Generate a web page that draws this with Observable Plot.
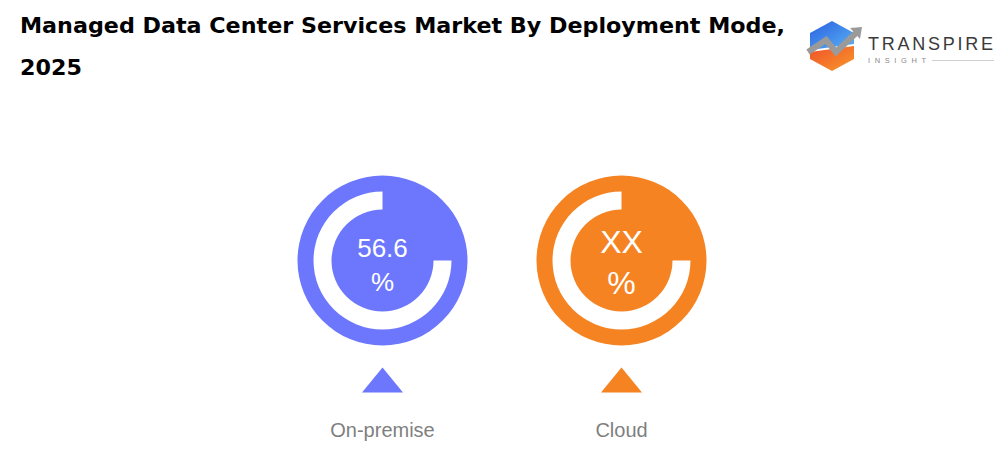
<!DOCTYPE html>
<html><head><meta charset="utf-8">
<script src="https://cdn.jsdelivr.net/npm/d3@7"></script>
<script src="https://cdn.jsdelivr.net/npm/@observablehq/plot@0.6"></script>
<style>
html,body{margin:0;padding:0;background:#fff;}
#wrap{position:relative;width:1008px;height:453px;overflow:hidden;}
#head{position:relative;width:1008px;height:100px;}
.t{position:absolute;left:20px;font-family:"DejaVu Sans Condensed","Liberation Sans Narrow","Liberation Sans",sans-serif;font-weight:bold;font-size:21px;line-height:24px;color:#000;white-space:nowrap;transform-origin:0 0;}
#logo{position:absolute;left:800px;top:14px;}
#chart svg{display:block;}
</style></head><body>
<div id="wrap">
<div id="head">
 <div class="t" id="t1" style="top:14px">Managed Data Center Services Market By Deployment Mode,</div>
 <div class="t" id="t2" style="top:56px">2025</div>
 <svg id="logo" width="208" height="64" viewBox="800 14 208 64">
  <defs>
   <linearGradient id="gb" x1="0" y1="0" x2="1" y2="1"><stop offset="0" stop-color="#2a5fe0"/><stop offset="1" stop-color="#5ab4f5"/></linearGradient>
   <linearGradient id="go" x1="0" y1="0" x2="1" y2="1"><stop offset="0" stop-color="#f0502a"/><stop offset="1" stop-color="#f89a2a"/></linearGradient>
  </defs>
  <polygon points="832,21 854,33 854,44 810,50 810,33" fill="url(#gb)"/>
  <polygon points="810,52 854,46 854,59 832,71 810,59" fill="url(#go)"/>
  <polyline points="808,52 826,40 836,52 856,33" fill="none" stroke="#9a9a9a" stroke-width="6" stroke-linejoin="miter"/>
  <polygon points="850,28 862,27 860,39" fill="#9a9a9a"/>
  <text x="868" y="50" font-family="Liberation Sans, Arial, sans-serif" font-size="18" fill="#3a3a3a" textLength="125" lengthAdjust="spacing">TRANSPIRE</text>
  <text x="868" y="63" font-family="Liberation Sans, Arial, sans-serif" font-size="7.5" fill="#8a8a8a" textLength="58" lengthAdjust="spacing">INSIGHT</text>
  <line x1="932" y1="60.5" x2="994" y2="60.5" stroke="#cfcfcf" stroke-width="1"/>
 </svg>
</div>
<div id="chart"></div>
</div>
<script>
const categories = ["On-premise", "Cloud"];
const shares = ["56.6", "XX"];
const colors = ["#6C77FD", "#F58322"];

const rows = categories.map((c, i) => ({category: c, share: shares[i], color: colors[i]}));

// white 270° ring drawn as a custom symbol (gap in the upper-right quadrant)
const ringSymbol = {
  draw(ctx, size) {
    const r = Math.sqrt(size / Math.PI);
    const ri = r * 51 / 69;
    ctx.moveTo(r, 0);
    ctx.arc(0, 0, r, 0, 1.5 * Math.PI, false);
    ctx.lineTo(0, -ri);
    ctx.arc(0, 0, ri, 1.5 * Math.PI, 0, true);
    ctx.closePath();
  }
};
// flat upward triangle
const triSymbol = {
  draw(ctx, size) {
    const r = Math.sqrt(size / Math.PI);
    const h = r * 25 / 20.5;
    ctx.moveTo(0, -h / 2);
    ctx.lineTo(r, h / 2);
    ctx.lineTo(-r, h / 2);
    ctx.closePath();
  }
};

const font = "Liberation Sans, Arial, Helvetica, sans-serif";
const first = rows.filter((d, i) => i === 0);
const second = rows.filter((d, i) => i === 1);
const T = {x: "category", frameAnchor: "top", lineAnchor: "middle"};

const chart = Plot.plot({
  width: 1008,
  height: 353,
  marginTop: 0, marginBottom: 0, marginLeft: 0, marginRight: 0,
  x: {type: "point", domain: categories, range: [382, 621], padding: 0, axis: null},
  color: {type: "identity"},
  style: {fontFamily: font, background: "white"},
  marks: [
    Plot.dot(rows, {x: "category", frameAnchor: "top", dy: 160, r: 85, fill: "color", stroke: "none"}),
    Plot.dot(rows, {x: "category", frameAnchor: "top", dy: 160, r: 69, symbol: ringSymbol, fill: "white", stroke: "none"}),
    Plot.text(first, {...T, dy: 148, text: "share", fill: "white", fontSize: 26}),
    Plot.text(first, {...T, dy: 182, text: () => "%", fill: "white", fontSize: 26}),
    Plot.text(second, {...T, dy: 142, text: "share", fill: "white", fontSize: 32}),
    Plot.text(second, {...T, dy: 183, text: () => "%", fill: "white", fontSize: 32}),
    Plot.dot(rows, {x: "category", frameAnchor: "top", dy: 279.5, r: 20.5, symbol: triSymbol, fill: "color", stroke: "none"}),
    Plot.text(rows, {...T, dy: 330, text: "category", fill: "#7f7f7f", fontSize: 20})
  ]
});
document.getElementById("chart").appendChild(chart);

// fit title width to reference
const t1 = document.getElementById("t1"), t2 = document.getElementById("t2");
const w = t1.getBoundingClientRect().width;
const s = 765 / w;
t1.style.transform = `scaleX(${s})`;
t2.style.transform = `scaleX(${s})`;
</script>
</body></html>
